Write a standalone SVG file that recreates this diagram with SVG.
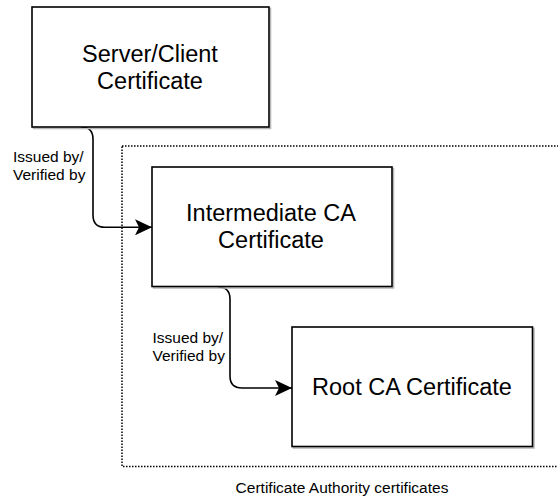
<svg xmlns="http://www.w3.org/2000/svg" width="558" height="502" viewBox="0 0 558 502">
  <style>
    .box { fill: #ffffff; stroke: #000000; stroke-width: 1.6; }
    .shadow { fill: none; stroke: #b8b8b8; stroke-width: 1.6; }
    .big { font-family: "Liberation Sans", Arial, sans-serif; font-size: 23.5px; fill: #000000; text-anchor: middle; }
    .small { font-family: "Liberation Sans", Arial, sans-serif; font-size: 15.5px; fill: #000000; }
    .edge { fill: none; stroke: #000000; stroke-width: 1.6; }
    .group { fill: none; stroke: #000000; stroke-width: 1.5; stroke-dasharray: 1.5 1.5; }
  </style>
  <defs>
    <marker id="arrow" viewBox="0 0 18 16" refX="17" refY="8" markerWidth="18" markerHeight="16" markerUnits="userSpaceOnUse" orient="auto">
      <path d="M0,0 L17,8 L0,16 L4,8 Z" fill="#000000"/>
    </marker>
  </defs>
  <rect width="558" height="502" fill="#ffffff"/>

  <!-- CA group boundary -->
  <g id="ca-group">
    <rect class="group" x="122" y="146" width="450" height="320.5"/>
    <text class="small" x="342" y="493" text-anchor="middle" font-size="16">Certificate Authority certificates</text>
  </g>

  <!-- connectors -->
  <g id="connectors">
    <path class="edge" d="M81,127 Q93,127 93,139 L93,215 Q93,227.3 105,227.3 L152,227.3" marker-end="url(#arrow)"/>
    <path class="edge" d="M218,287 Q230,287 230,299 L230,376 Q230,388 242,388 L292,388" marker-end="url(#arrow)"/>
    <text class="small" x="13" y="162">Issued by/</text>
    <text class="small" x="13" y="180">Verified by</text>
    <text class="small" x="152.5" y="343">Issued by/</text>
    <text class="small" x="152.5" y="361">Verified by</text>
  </g>

  <g id="server-client">
    <rect class="shadow" x="33.5" y="8.5" width="237" height="120"/>
    <rect class="box" x="32" y="7" width="237" height="120"/>
    <text class="big" x="150" y="61.5">Server/Client</text>
    <text class="big" x="150" y="89">Certificate</text>
  </g>

  <g id="intermediate-ca">
    <rect class="shadow" x="153.5" y="168.5" width="240" height="119.5"/>
    <rect class="box" x="152" y="167" width="240" height="119.5"/>
    <text class="big" x="271" y="220.5">Intermediate CA</text>
    <text class="big" x="271" y="247.5">Certificate</text>
  </g>

  <g id="root-ca">
    <rect class="shadow" x="293.5" y="328.5" width="240.5" height="119.5"/>
    <rect class="box" x="292" y="327" width="240.5" height="119.5"/>
    <text class="big" x="412" y="395">Root CA Certificate</text>
  </g>
</svg>
